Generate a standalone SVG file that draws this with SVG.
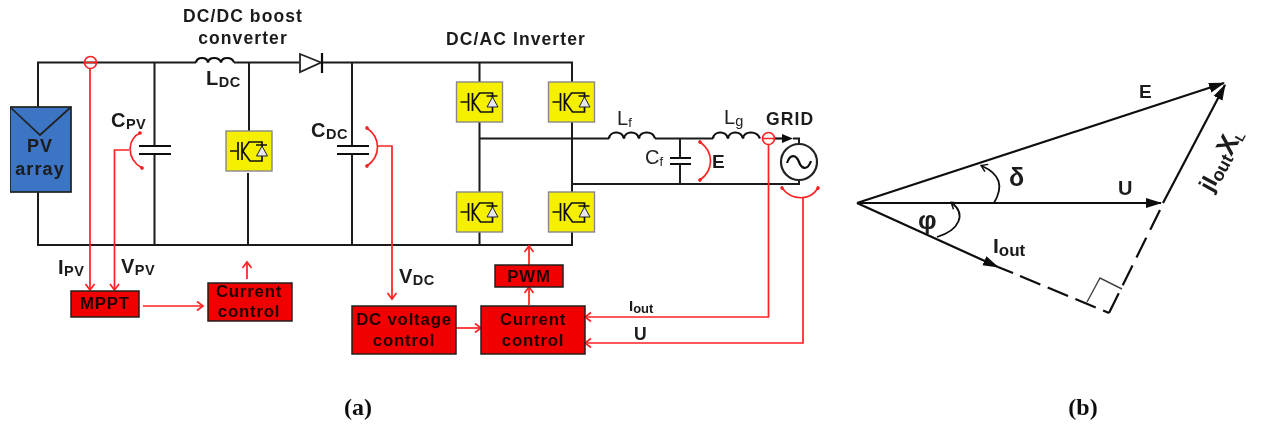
<svg xmlns="http://www.w3.org/2000/svg" width="1262" height="427" viewBox="0 0 1262 427">
<style>
.w{fill:none;stroke:#1c1c1c;stroke-width:2}
.r{fill:none;stroke:#f22;stroke-width:1.700}
.rb{fill:#f00000;stroke:#222;stroke-width:1.500}
.k{fill:none;stroke:#0c0c0c;stroke-width:2.200}
.t{font-family:"Liberation Sans",Arial,sans-serif;font-weight:700;fill:#1a1a1a;font-size:17.500px;letter-spacing:1.100px}
.n{font-family:"Liberation Sans",Arial,sans-serif;fill:#222;font-size:20px}
.m{text-anchor:middle}
.b{font-family:"Liberation Sans",Arial,sans-serif;font-weight:700;fill:#200;font-size:16.800px;letter-spacing:.8px;text-anchor:middle}
.c{font-family:"Liberation Serif","Times New Roman",serif;font-weight:700;fill:#111;font-size:24px;text-anchor:middle}
.big{font-size:20px;letter-spacing:.5px}
.sub{font-size:14.500px;letter-spacing:.5px}
.s{font-size:13px;letter-spacing:0}
</style>
<defs>
<filter id="soft" x="0" y="0" width="100%" height="100%" filterUnits="objectBoundingBox"><feGaussianBlur stdDeviation="0.55"/></filter>
<marker id="ra" markerWidth="12" markerHeight="12" refX="9" refY="6" orient="auto" markerUnits="userSpaceOnUse"><path d="M3 1.500L9 6L3 10.500" fill="none" stroke="#f22" stroke-width="1.700"/></marker>
<marker id="rd" markerWidth="6" markerHeight="6" refX="3" refY="3" orient="auto" markerUnits="userSpaceOnUse"><circle cx="3" cy="3" r="1.800" fill="#e22"/></marker>
<marker id="ka" markerWidth="18" markerHeight="12" refX="15" refY="6" orient="auto" markerUnits="userSpaceOnUse"><path d="M0 1L16 6L0 11z" fill="#0c0c0c"/></marker>
<marker id="kc" markerWidth="10" markerHeight="10" refX="6" refY="5" orient="auto" markerUnits="userSpaceOnUse"><path d="M1 1L7 5L1 9" fill="none" stroke="#111" stroke-width="1.500"/></marker>
<g id="igbt">
<rect x="0" y="0" width="46" height="40" fill="#f4f000" stroke="#888" stroke-width="1.400"/>
<path d="M4 20H11M12 11V29M16 11V29M16 21L23 11H36V16M16 19L24 30H36V25M30 14H41" fill="none" stroke="#111" stroke-width="1.700"/>
<path d="M36 15L41.500 25H30.500z" fill="#e6e6ee" stroke="#222" stroke-width="1"/>
</g>
</defs>
<rect width="1262" height="427" fill="#fff"/>
<g filter="url(#soft)">
<g id="connectors">
<path class="w" d="M38 107V62.500H196M234 62.500H299M322 62.500H572V245H38V192"/>
<path class="w" d="M154.500 62.500V145M154.500 153V245M249 62.500V131M248 173V245M352 62.500V145M352 153V245M479.500 62.500V245"/>
<path class="w" d="M479.500 138.500H609M655 138.500H713"/>
<path class="w" d="M572 184H799V179M680 138.500V157M680 165V184M793 138.500H799V145"/>
<path class="k" d="M139 146H171M139 154H171M337 146H369M337 154H369M670 158H691M670 164H691"/>
<path class="k" d="M196 62.500c1-6 11-6 12 0c1-6 11-6 13 0c1-6 11-6 13 0M609 138.500c1-8 13-8 15 0c1-8 13-8 15 0c1-8 14-8 16 0M713 138.500c1-8 13-8 15 0c1-8 13-8 15 0c1-8 14-8 17 0"/>
<path d="M300 54L321 62.500L300 72z" fill="#fff" stroke="#222" stroke-width="1.800"/>
<path class="k" d="M322 53V73"/>
<path d="M775 138.500H782" class="k"/>
<path d="M782 134L793 138.500L782 143z" fill="#111"/>
<circle cx="799" cy="162" r="18" fill="#fff" stroke="#222" stroke-width="2.200"/>
<path class="k" d="M787 163c3-9 9-9 12-1s9 8 12-1"/>

<circle cx="90.500" cy="62.500" r="6" fill="none" stroke="#f22" stroke-width="1.700"/>
<path class="r" d="M84.500 62.500H96.500M90 68V290" marker-end="url(#ra)"/>
<path class="r" d="M129 150H114.500V290" marker-end="url(#ra)"/>
<path class="r" d="M140 133C128 138 125 158 142 168" marker-start="url(#rd)" marker-end="url(#rd)"/>
<path class="r" d="M143 306H203" marker-end="url(#ra)"/>
<path class="r" d="M247 279V262" marker-end="url(#ra)"/>
<path class="r" d="M367 128C381 138 381 156 367 166" marker-start="url(#rd)" marker-end="url(#rd)"/>
<path class="r" d="M378 146H392V299" marker-end="url(#ra)"/>
<path class="r" d="M529 305V287" marker-end="url(#ra)"/>
<path class="r" d="M529 265V246" marker-end="url(#ra)"/>
<path class="r" d="M456 328H481" marker-end="url(#ra)"/>
<circle cx="768.500" cy="138.500" r="6" fill="none" stroke="#f22" stroke-width="1.700"/>
<path class="r" d="M762.500 138.500H774.500M768.500 144V317H585" marker-end="url(#ra)"/>
<path class="r" d="M803 198V343H585" marker-end="url(#ra)"/>
<path class="r" d="M700 142C714 152 714 170 700 180" marker-start="url(#rd)" marker-end="url(#rd)"/>
<path class="r" d="M782 188C792 201 810 201 818 188" marker-start="url(#rd)" marker-end="url(#rd)"/>
</g>
<g id="pv-array">
<rect x="10" y="107" width="61" height="85" fill="#3a74c4" stroke="#222" stroke-width="1.700"/>
<path d="M10 107L40 135L71 107" fill="none" stroke="#222" stroke-width="1.700"/>
<text class="t m" x="40" y="152" style="font-size:18px">PV</text>
<text class="t m" x="40" y="175" style="font-size:18px">array</text>
</g>
<use id="sw-boost" href="#igbt" x="226" y="131"/>
<use id="sw-1" href="#igbt" x="456.500" y="82"/>
<use id="sw-2" href="#igbt" x="548.500" y="82"/>
<use id="sw-3" href="#igbt" x="456.500" y="192"/>
<use id="sw-4" href="#igbt" x="548.500" y="192"/>
<g id="mppt"><rect class="rb" x="71" y="291" width="68" height="26"/><text class="b" x="105" y="309">MPPT</text></g>
<g id="current-control-1"><rect class="rb" x="208" y="283" width="84" height="38"/><text class="b" x="249" y="297">Current</text><text class="b" x="249" y="317">control</text></g>
<g id="dc-voltage-control"><rect class="rb" x="352" y="306" width="104" height="48"/><text class="b" x="404" y="325">DC voltage</text><text class="b" x="404" y="346">control</text></g>
<g id="current-control-2"><rect class="rb" x="481" y="306" width="104" height="48"/><text class="b" x="533" y="325">Current</text><text class="b" x="533" y="346">control</text></g>
<g id="pwm"><rect class="rb" x="495" y="265" width="68" height="22"/><text class="b" x="529" y="282">PWM</text></g>
<g id="labels">
<text class="t m" x="243" y="22">DC/DC boost</text>
<text class="t m" x="243" y="44">converter</text>
<text class="t m" x="516" y="45">DC/AC Inverter</text>
<text class="t big" x="206" y="85">L<tspan class="sub" dy="2">DC</tspan></text>
<text class="t big" x="111" y="127">C<tspan class="sub" dy="2">PV</tspan></text>
<text class="t big" x="311" y="137">C<tspan class="sub" dy="2">DC</tspan></text>
<text class="t big" x="58" y="274">I<tspan class="sub" dy="2">PV</tspan></text>
<text class="t big" x="121" y="273">V<tspan class="sub" dy="2">PV</tspan></text>
<text class="t big" x="399" y="283">V<tspan class="sub" dy="2">DC</tspan></text>
<text class="n" x="617" y="125">L<tspan class="s" dy="2">f</tspan></text>
<text class="n" x="724" y="124">L<tspan class="sub" dy="2">g</tspan></text>
<text class="n" x="645" y="164">C<tspan class="s" dy="2">f</tspan></text>
<text class="t" x="712" y="168" style="font-size:19px">E</text>
<text class="t" x="766" y="125">GRID</text>
<text class="t" x="629" y="311" style="font-size:15px;letter-spacing:0">I<tspan class="s" dy="2">out</tspan></text>
<text class="t" x="634" y="340">U</text>
<text class="c" x="358" y="415">(a)</text>
<text class="c" x="1083" y="415">(b)</text>
</g>
<g id="phasor">
<path class="k" d="M857 203L1224 83" marker-end="url(#ka)"/>
<path class="k" d="M857 203H1161" marker-end="url(#ka)"/>
<path class="k" d="M857 203L998 267" marker-end="url(#ka)"/>
<path class="k" d="M998 267L1013 273"/>
<path class="k" d="M1163 203L1225 85" marker-end="url(#ka)"/>
<path class="k" d="M1020 276L1109 313" stroke-dasharray="22 8"/>
<path class="k" d="M1160 210L1109 313" stroke-dasharray="22 9"/>
<path d="M1087 302L1100 278L1122 289" fill="none" stroke="#444" stroke-width="1.400"/>
<path d="M994 203C1004 186 1000 174 982 166" fill="none" stroke="#111" stroke-width="1.800" marker-end="url(#kc)"/>
<path d="M937 237C960 230 966 214 952 203" fill="none" stroke="#111" stroke-width="1.800" marker-end="url(#kc)"/>
<text class="t" x="1139" y="98" style="font-size:19px;letter-spacing:0">E</text>
<text class="t" x="1009" y="186" style="font-size:25px;letter-spacing:0">δ</text>
<text class="t" x="1118" y="195" style="font-size:20px;letter-spacing:0">U</text>
<text class="t" x="918" y="229" style="font-size:26px;letter-spacing:0">φ</text>
<text class="t" x="993" y="253" style="font-size:21px;letter-spacing:0">I<tspan dy="3" style="font-size:17px">out</tspan></text>
<text class="t" transform="translate(1212 193) rotate(-62)" style="font-size:23px;letter-spacing:0">jI<tspan dy="3" style="font-size:18px">out</tspan><tspan dy="-3" style="font-size:27px">X</tspan><tspan dy="3" style="font-size:13px">L</tspan></text>
</g>
</g>
</svg>
